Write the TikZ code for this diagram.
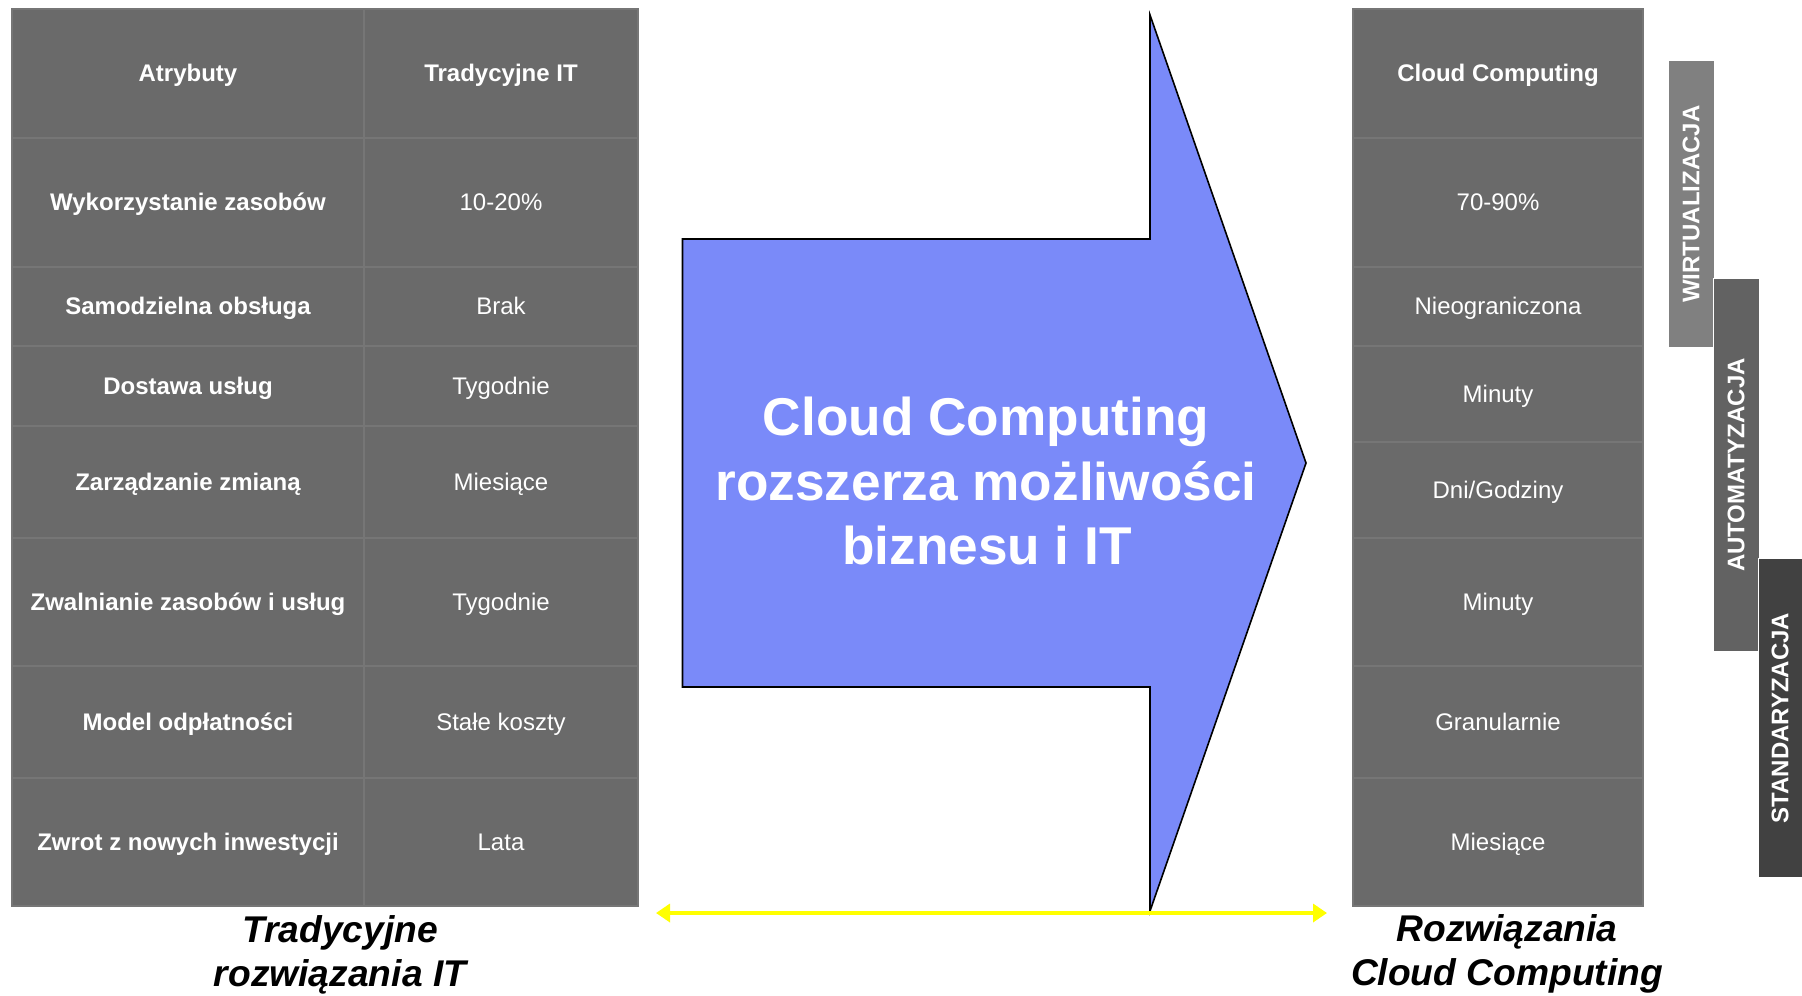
\documentclass[tikz,border=0pt]{standalone}
\usepackage{fontspec}
\setmainfont{Liberation Sans}
\usetikzlibrary{arrows.meta}

\definecolor{cellgray}{HTML}{6A6A6A}
\definecolor{gridgray}{HTML}{767676}
\definecolor{arrowblue}{HTML}{7A8AF9}
\definecolor{barlight}{HTML}{808080}
\definecolor{barmid}{HTML}{626262}
\definecolor{bardark}{HTML}{414141}
\definecolor{spanyellow}{HTML}{FFFF00}

\tikzset{
  gridline/.style={draw=gridgray, line width=1pt},
  cellhead/.style={text=white, font=\fontsize{12}{14}\selectfont\bfseries, anchor=base, inner sep=0pt},
  cellval/.style={text=white, font=\fontsize{12}{14}\selectfont, anchor=base, inner sep=0pt},
  bigtxt/.style={text=white, font=\fontsize{26.6}{32}\selectfont\bfseries, anchor=base, inner sep=0pt},
  sidetitle/.style={text=black, font=\fontsize{18.6}{22}\selectfont\bfseries\itshape, anchor=base, inner sep=0pt},
  barbox/.style={draw=white, line width=0.5pt},
  bartxt/.style={text=white, font=\fontsize{12}{14}\selectfont\bfseries, rotate=90, inner sep=0pt},
  spanarrow/.style={draw=spanyellow, line width=2pt,
    {Triangle[length=7pt,width=9pt]}-{Triangle[length=7pt,width=9pt]}},
}

\begin{document}
\begin{tikzpicture}[x=0.5pt, y=-0.5pt]
\useasboundingbox (0,0) rectangle (1802,995);

% ---- traditional IT table ----
\fill[cellgray] (11.5,9) rectangle (638,906);
\draw[gridline] (11.5,9) rectangle (638,906);
\draw[gridline] (364,9) -- (364,906);
\foreach \y in {138,267,346,426,538,666,778}
  \draw[gridline] (11.5,\y) -- (638,\y);

\node[cellhead] (a0) at (188,81.5)  {Atrybuty};
\node[cellhead] (a1) at (188,210.5) {Wykorzystanie zasobów};
\node[cellhead] (a2) at (188,314.5) {Samodzielna obsługa};
\node[cellhead] (a3) at (188,394)   {Dostawa usług};
\node[cellhead] (a4) at (188,490)   {Zarządzanie zmianą};
\node[cellhead] (a5) at (188,610)   {Zwalnianie zasobów i usług};
\node[cellhead] (a6) at (188,730)   {Model odpłatności};
\node[cellhead] (a7) at (188,850.5) {Zwrot z nowych inwestycji};

\node[cellhead] (t0) at (501,81.5)  {Tradycyjne IT};
\node[cellval]  (t1) at (501,210.5) {10-20\%};
\node[cellval]  (t2) at (501,314.5) {Brak};
\node[cellval]  (t3) at (501,394)   {Tygodnie};
\node[cellval]  (t4) at (501,490)   {Miesiące};
\node[cellval]  (t5) at (501,610)   {Tygodnie};
\node[cellval]  (t6) at (501,730)   {Stałe koszty};
\node[cellval]  (t7) at (501,850.5) {Lata};

% ---- cloud computing table ----
\fill[cellgray] (1353,9) rectangle (1643,906);
\draw[gridline] (1353,9) rectangle (1643,906);
\foreach \y in {138,267,346,442,538,666,778}
  \draw[gridline] (1353,\y) -- (1643,\y);

\node[cellhead] (c0) at (1498,81.5)  {Cloud Computing};
\node[cellval]  (c1) at (1498,210.5) {70-90\%};
\node[cellval]  (c2) at (1498,314.5) {Nieograniczona};
\node[cellval]  (c3) at (1498,402)   {Minuty};
\node[cellval]  (c4) at (1498,498)   {Dni/Godziny};
\node[cellval]  (c5) at (1498,610)   {Minuty};
\node[cellval]  (c6) at (1498,730)   {Granularnie};
\node[cellval]  (c7) at (1498,850.5) {Miesiące};

% ---- big block arrow ----
\draw[fill=arrowblue, draw=black, line width=0.8pt, line join=miter]
  (682.5,239) -- (1150,239) -- (1150,15) -- (1306,463) -- (1150,911)
  -- (1150,687) -- (682.5,687) -- cycle;
\node[bigtxt] (m1) at (986,435) {Cloud Computing};
\node[bigtxt] (m2) at (986,500) {rozszerza możliwości};
\node[bigtxt] (m3) at (987,564) {biznesu i IT};

% ---- yellow span arrow ----
\coordinate (spanL) at (656,913);
\coordinate (spanR) at (1327,913);
\draw[spanarrow] (spanL) -- (spanR);

% ---- captions under the tables ----
\node[sidetitle] (lt1) at (340,942) {Tradycyjne};
\node[sidetitle] (lt2) at (340,986) {rozwiązania IT};
\node[sidetitle] (rt1) at (1507,941) {Rozwiązania};
\node[sidetitle] (rt2) at (1507,985) {Cloud Computing};

% ---- stacked side bars ----
\filldraw[barbox, fill=barlight] (1668,61)  rectangle (1714,347);
\filldraw[barbox, fill=barmid]   (1713,278) rectangle (1759,651);
\filldraw[barbox, fill=bardark]  (1758,558) rectangle (1808,877);
\node[bartxt] (b1) at (1691,204) {WIRTUALIZACJA};
\node[bartxt] (b2) at (1736,465) {AUTOMATYZACJA};
\node[bartxt] (b3) at (1780,718) {STANDARYZACJA};
\end{tikzpicture}
\end{document}
